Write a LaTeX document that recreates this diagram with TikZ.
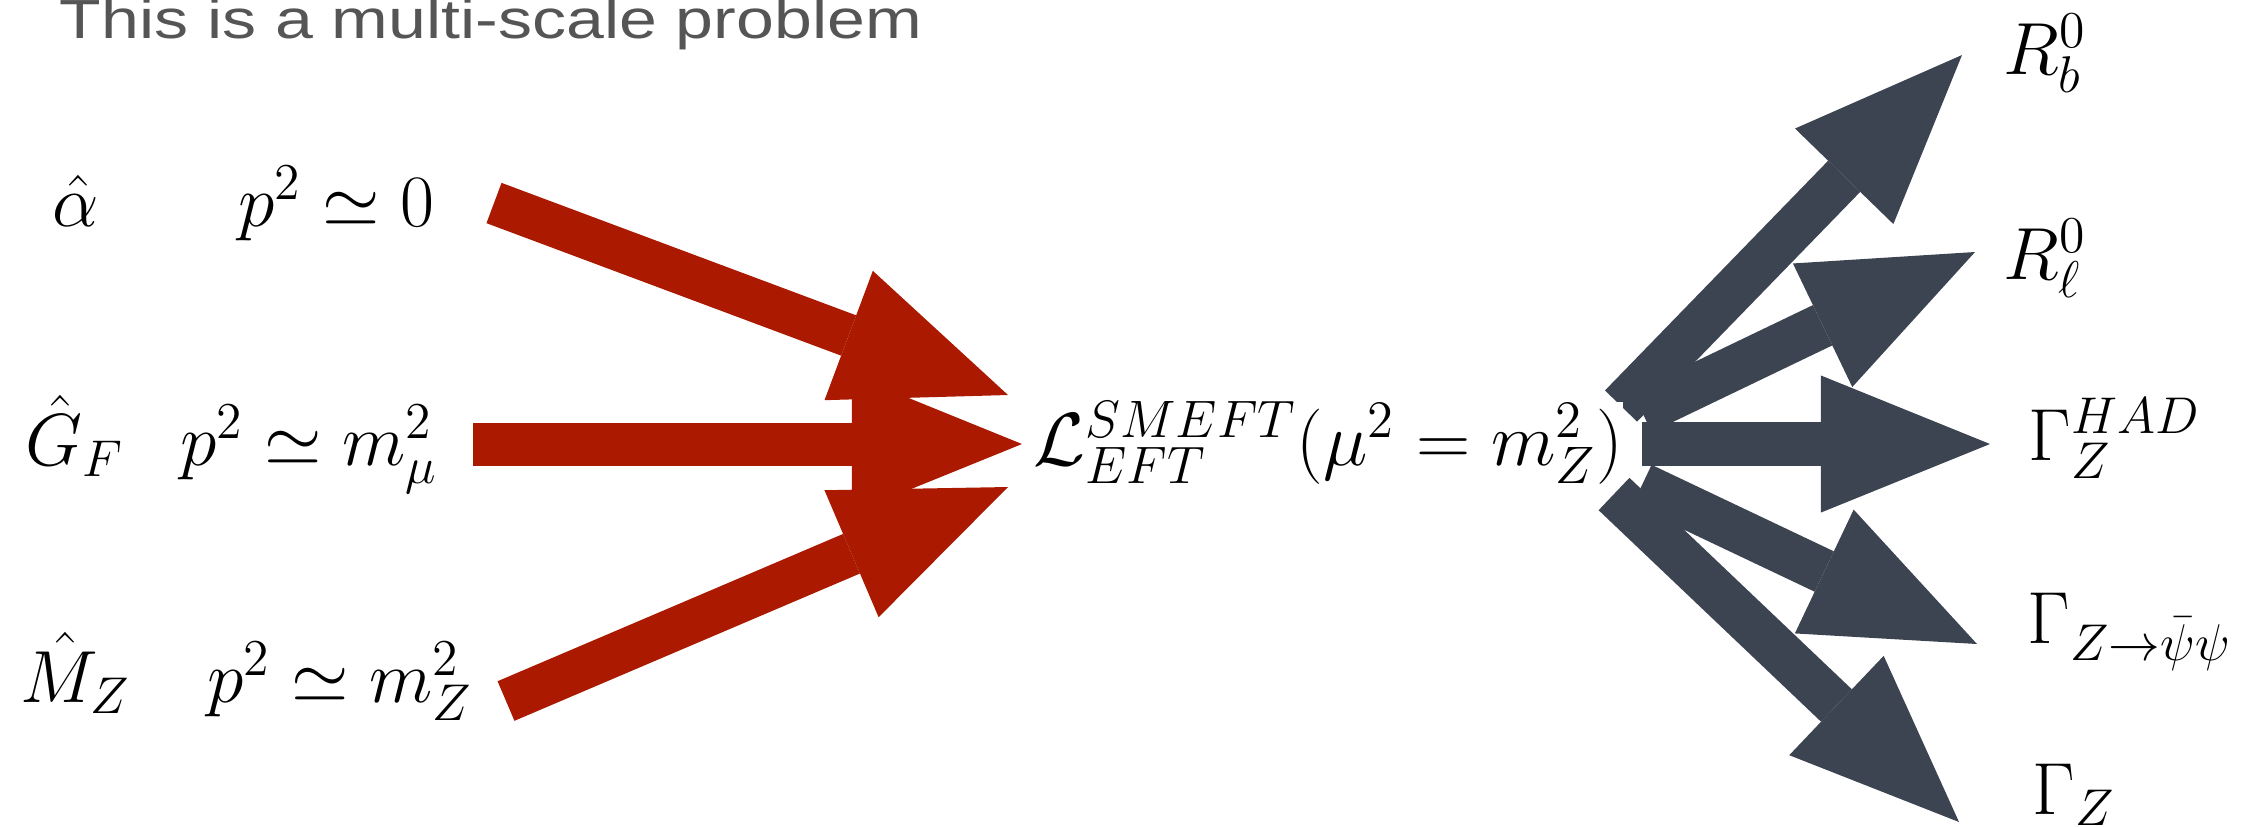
\RequirePackage{fix-cm}
\documentclass[tikz,border=0pt]{standalone}
\usepackage{fontspec}
\newfontfamily\titlefont{Liberation Sans}
\definecolor{eftred}{HTML}{AA1900}
\definecolor{slate}{HTML}{3D4451}
\definecolor{titlegray}{HTML}{555555}
\usetikzlibrary{arrows.meta, backgrounds}
\tikzset{
  lbl/.style={
    font=\fontsize{21}{25}\selectfont, text=black,
    inner sep=0pt, anchor=base west
  },
  ttl/.style={
    font=\titlefont\fontsize{19.35}{23}\selectfont, text=titlegray,
    inner sep=0pt, anchor=base west
  },
  inarr/.style={
    draw=eftred, line width=0.43cm,
    -{Triangle[length=1.7cm, width=1.38cm, line width=0pt]}
  },
  outarr/.style={
    draw=slate, line width=0.447cm,
    -{Triangle[length=1.69cm, width=1.37cm, line width=0pt]}
  },
}

\begin{document}
\begin{tikzpicture}[x=0.01cm, y=-0.01cm]
    \useasboundingbox (0,0) rectangle (2258,826);

    \node[ttl] (title) at (59,38) {\scalebox{1}[0.81]{This is a multi-scale problem}};

    % inputs
    \node[lbl] (alpha) at (52,226) {$\hat{\alpha}$};
    \node[lbl] (pzero) at (238,226) {$p^2 \simeq 0$};
    \node[lbl] (gf) at (25,465) {$\hat{G}_F$};
    \node[lbl] (pmu) at (180,465) {$p^2 \simeq m_\mu^2$};
    \node[lbl] (mz) at (20,702) {$\hat{M}_Z$};
    \node[lbl] (pz) at (207,702) {$p^2 \simeq m_Z^2$};

    % effective lagrangian
    \node[lbl, fill=white, font=\fontsize{21.4}{25}\selectfont] (lag) at (1033,465)
      {$\mathcal{L}^{SMEFT}_{EFT}(\mu^2 = m_Z^2)$};

    % observables
    \node[lbl] (rb) at (2003,74) {$R^0_b$};
    \node[lbl] (rl) at (2003,279) {$R^0_\ell$};
    \node[lbl] (ghad) at (2028,460) {$\Gamma_Z^{HAD}$};
    \node[lbl] (gpsi) at (2027,643) {$\Gamma_{Z\to\bar{\psi}\psi}$};
    \node[lbl] (gz) at (2032,814) {$\Gamma_Z$};

    \coordinate (in1) at (494,203);   \coordinate (hit1) at (1008,395);
    \coordinate (in2) at (473,444);   \coordinate (hit2) at (1022,444);
    \coordinate (in3) at (506,701);   \coordinate (hit3) at (1008,487);

    \coordinate (out1) at (1621,406); \coordinate (tip1) at (1962,55);
    \coordinate (out2) at (1642,412); \coordinate (tip2) at (1975,252);
    \coordinate (out3) at (1642,444); \coordinate (tip3) at (1990,444);
    \coordinate (out4) at (1642,485); \coordinate (tip4) at (1977,644);
    \coordinate (out5) at (1614,494); \coordinate (tip5) at (1959,822);

    \begin{scope}[on background layer]
      \foreach \i in {1,2,3}
        \draw[inarr] (in\i) -- (hit\i);
      \foreach \i in {1,...,5}
        \draw[outarr] (out\i) -- (tip\i);
    \end{scope}
\end{tikzpicture}
\end{document}
